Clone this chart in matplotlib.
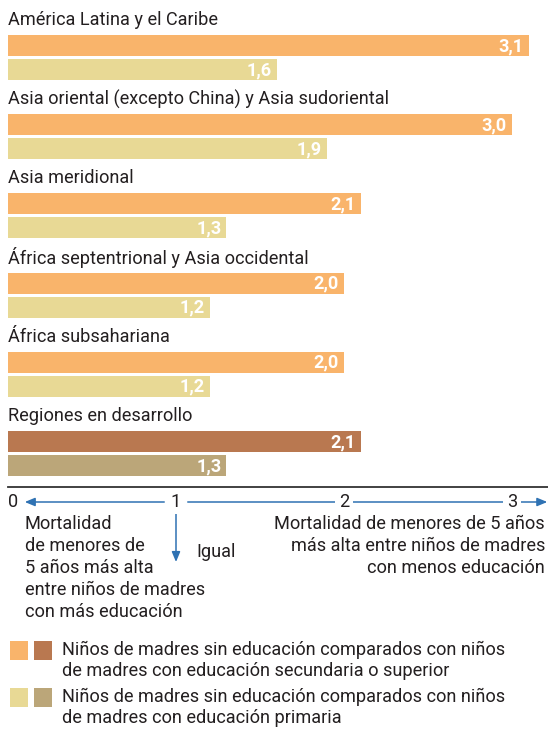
import matplotlib.pyplot as plt
from matplotlib.patches import Rectangle

plt.rcParams['font.family'] = ['Roboto', 'DejaVu Sans']

regions = [
    'América Latina y el Caribe',
    'Asia oriental (excepto China) y Asia sudoriental',
    'Asia meridional',
    'África septentrional y Asia occidental',
    'África subsahariana',
    'Regiones en desarrollo',
]
ratio_secondary = [3.1, 3.0, 2.1, 2.0, 2.0, 2.1]
ratio_primary = [1.6, 1.9, 1.3, 1.2, 1.2, 1.3]
ticks = [0, 1, 2, 3]

c_sec = '#F9B46B'
c_pri = '#E8D995'
c_sec_dev = '#B97850'
c_pri_dev = '#BBA679'
blue = '#2F72B3'
txt = '#231F20'

W, H = 548, 731
fig = plt.figure(figsize=(W / 100, H / 100), dpi=100)
ax = fig.add_axes([0, 0, 1, 1])
unit = 168.0
x0 = 8.0
ax.set_xlim(-x0 / unit, (W - x0) / unit)
ax.set_ylim(H, 0)
ax.axis('off')

fs = 13.1
for i, name in enumerate(regions):
    yl = 20 + i * 79.2
    dev = (i == len(regions) - 1)
    cs = c_sec_dev if dev else c_sec
    cp = c_pri_dev if dev else c_pri
    ax.text(0, yl, name, fontsize=fs, color=txt, va='center', ha='left')
    ax.barh(yl + 25.5, ratio_secondary[i], height=21, left=0, color=cs)
    ax.barh(yl + 49.5, ratio_primary[i], height=21, left=0, color=cp)
    for v, y in ((ratio_secondary[i], yl + 25.5), (ratio_primary[i], yl + 49.5)):
        ax.text(v - 0.03, y + 0.5, f'{v:.1f}'.replace('.', ','), fontsize=fs,
                fontweight='bold', color='white', ha='right', va='center')

# separator line
ax.plot([0, (W - x0) / unit], [487, 487], color='#333333', lw=1.3)

# scale row
ya = 502
for t in ticks:
    ha = 'left' if t == 0 else 'center'
    ax.text(t, ya, str(t), fontsize=fs, color=txt, ha=ha, va='center', zorder=5,
            bbox=dict(facecolor='white', edgecolor='none', pad=2.5))
aprops = dict(arrowstyle='-|>,head_length=0.6,head_width=0.25', color=blue, lw=1.1,
              shrinkA=0, shrinkB=0)
ax.annotate('', xy=(0.1, ya), xytext=(0.93, ya), arrowprops=aprops)
ax.annotate('', xy=(3.21, ya), xytext=(1.07, ya), arrowprops=aprops)
ax.annotate('', xy=(1, 562), xytext=(1, 514), arrowprops=aprops)

left_lines = ['Mortalidad', 'de menores de', '5 años más alta',
              'entre niños de madres', 'con más educación']
for k, s in enumerate(left_lines):
    ax.text(0.1, 524 + k * 22, s, fontsize=fs, color=txt, ha='left', va='center')
ax.text(1.12, 552, 'Igual', fontsize=fs, color=txt, ha='left', va='center')
right_lines = ['Mortalidad de menores de 5 años', 'más alta entre niños de madres',
               'con menos educación']
for k, s in enumerate(right_lines):
    ax.text((545 - x0) / unit, 524 + k * 22, s, fontsize=fs, color=txt,
            ha='right', va='center')

# legend
legend_items = [
    ((c_sec, c_sec_dev), ['Niños de madres sin educación comparados con niños',
                          'de madres con educación secundaria o superior']),
    ((c_pri, c_pri_dev), ['Niños de madres sin educación comparados con niños',
                          'de madres con educación primaria']),
]
for j, (cols, lines) in enumerate(legend_items):
    yt = 650 + j * 47
    for m, c in enumerate(cols):
        ax.add_patch(Rectangle(((10 + m * 24 - x0) / unit, yt - 9), 18 / unit, 19,
                               facecolor=c, edgecolor='none'))
    for k, s in enumerate(lines):
        ax.text((62 - x0) / unit, yt + k * 21, s, fontsize=fs, color=txt,
                ha='left', va='center')

fig.savefig('out.png', dpi=100)
